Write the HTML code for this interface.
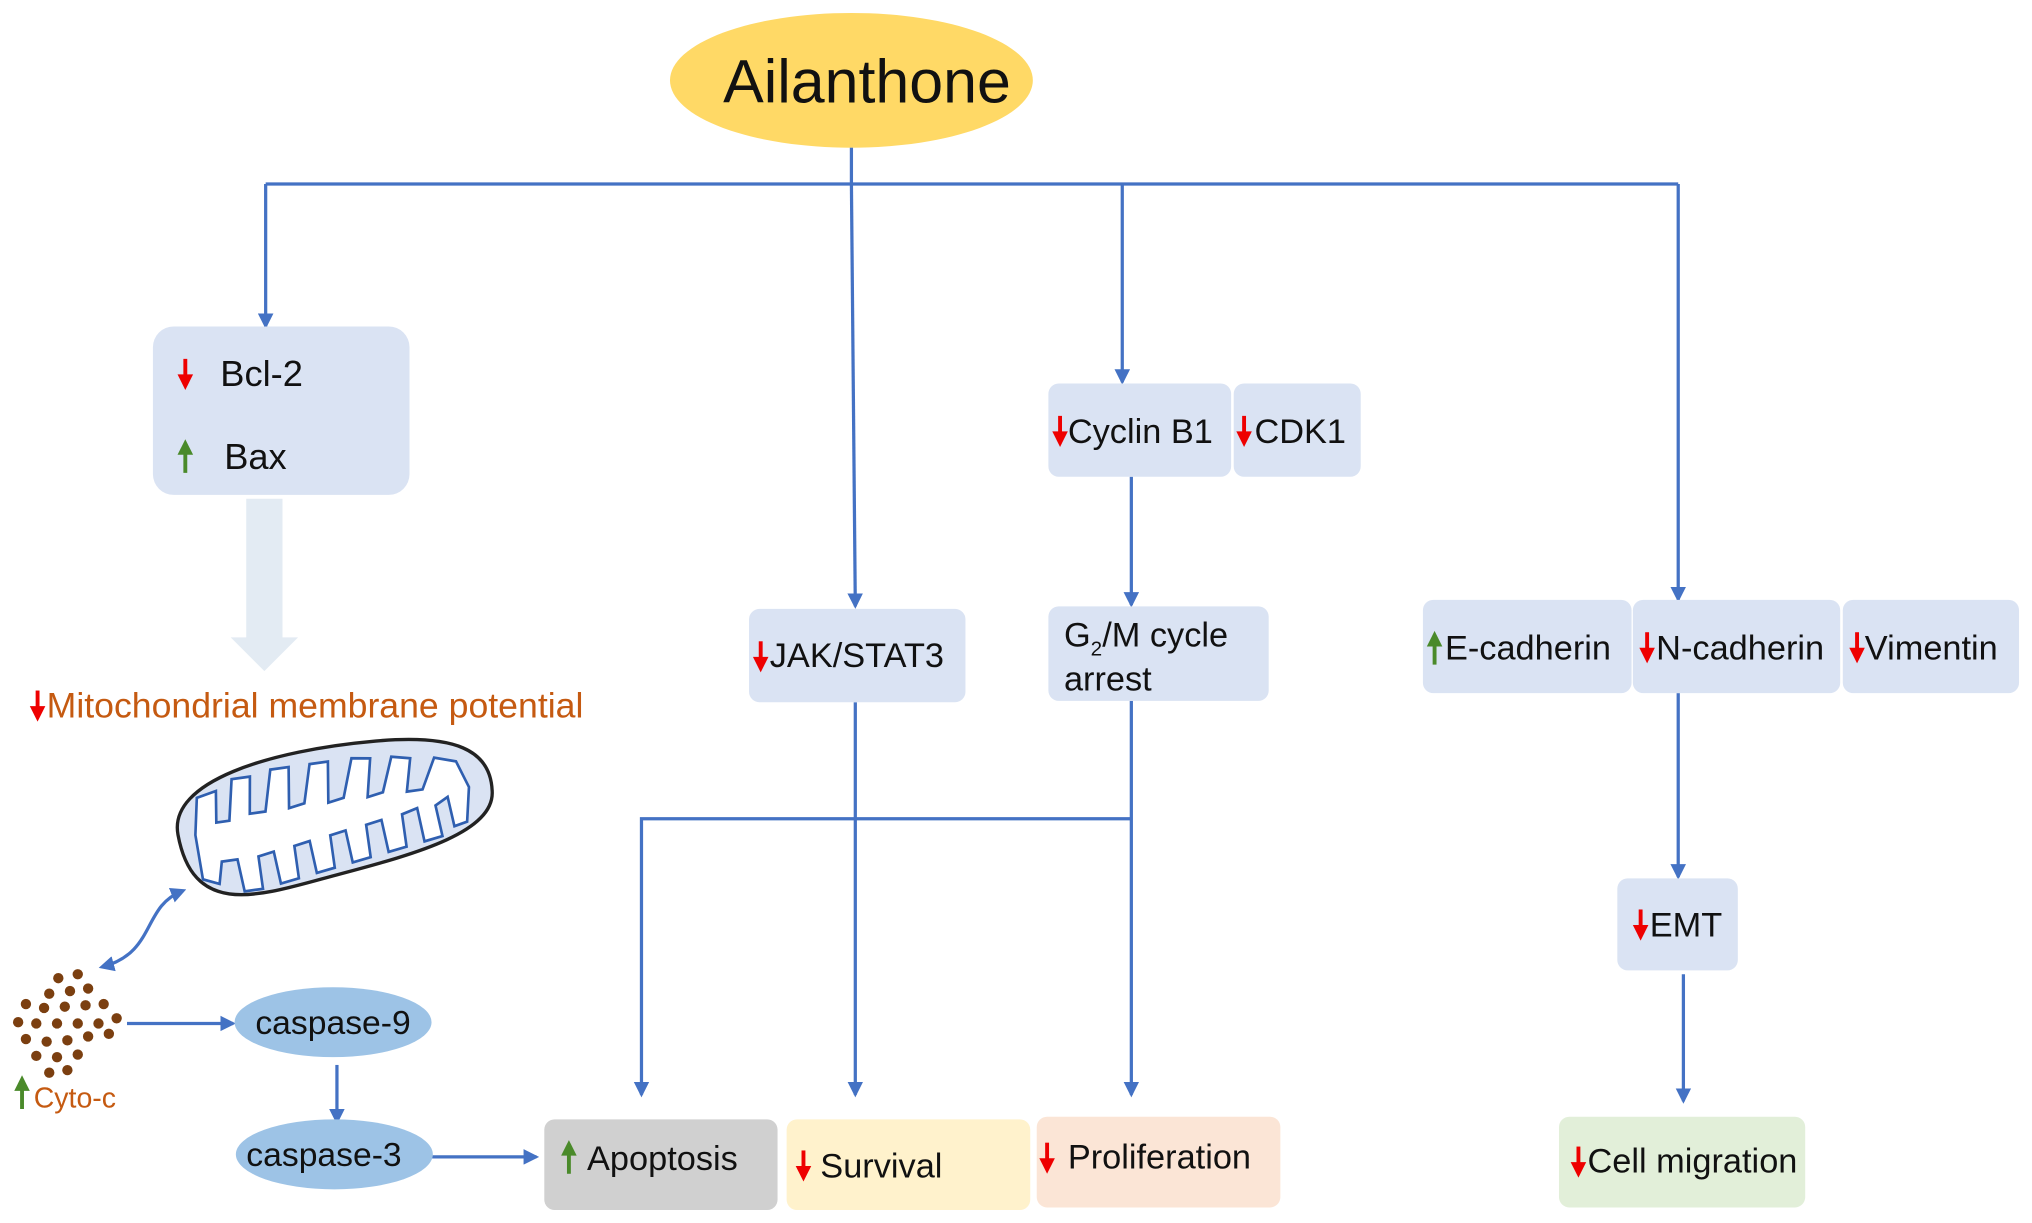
<!DOCTYPE html>
<html><head><meta charset="utf-8"><style>
html,body{margin:0;padding:0;background:#fff;}
svg{display:block;}
text{font-family:"Liberation Sans",sans-serif;fill:#111;}
</style></head><body>
<svg width="2032" height="1223" viewBox="0 0 1568 944" preserveAspectRatio="none" xmlns="http://www.w3.org/2000/svg">
<defs>
<marker id="ah" markerWidth="12" markerHeight="12" refX="10" refY="6" orient="auto" markerUnits="userSpaceOnUse"><path d="M0,0 L12,6 L0,12 Z" fill="#4472c4"/></marker>
<marker id="ahs" markerWidth="12" markerHeight="12" refX="8" refY="6" orient="auto-start-reverse" markerUnits="userSpaceOnUse"><path d="M0,0 L12,6 L0,12 Z" fill="#4472c4"/></marker>
<g id="rd"><path d="M0,0 V16" stroke="#e00" stroke-width="3"/><path d="M-6,12 L0,24 L6,12 Z" fill="#e00"/></g>
<g id="gu"><path d="M0,8 V26" stroke="#4a8a2a" stroke-width="3"/><path d="M-6,12 L0,0 L6,12 Z" fill="#4a8a2a"/></g>
</defs>
<rect width="1568" height="944" fill="#fff"/>
<ellipse cx="657" cy="62" rx="140" ry="52" fill="#ffd966"/>
<text x="669" y="79" font-size="47" text-anchor="middle">Ailanthone</text>
<g stroke="#4472c4" stroke-width="2.5" fill="none">
<path d="M657,114 V142"/>
<path d="M205,142 H1295"/>
<path d="M205,142 V252" marker-end="url(#ah)"/>
<path d="M657,142 L660,468" marker-end="url(#ah)"/>
<path d="M866,142 V295" marker-end="url(#ah)"/>
<path d="M1295,142 V463" marker-end="url(#ah)"/>
<path d="M873,368 V467" marker-end="url(#ah)"/>
<path d="M660,542 V845" marker-end="url(#ah)"/>
<path d="M873,541 V845" marker-end="url(#ah)"/>
<path d="M873,632 H495 V845" marker-end="url(#ah)"/>
<path d="M1295,535 V677" marker-end="url(#ah)"/>
<path d="M1299,752 V850" marker-end="url(#ah)"/>
<path d="M98,790 H180" marker-end="url(#ah)"/>
<path d="M260,822 V866" marker-end="url(#ah)"/>
<path d="M333,893 H414" marker-end="url(#ah)"/>
<path d="M80,746 C120,735 110,700 140,688" marker-start="url(#ahs)" marker-end="url(#ahs)"/>
</g>
<rect x="118" y="252" width="198" height="130" rx="16" fill="#dae3f3"/>
<use href="#rd" x="143" y="277"/>
<text x="170" y="298" font-size="28">Bcl-2</text>
<use href="#gu" x="143" y="339"/>
<text x="173" y="362" font-size="28">Bax</text>
<path d="M190,385 H218 V492 H230 L204,518 L178,492 H190 Z" fill="#e3ebf3"/>
<use href="#rd" x="29" y="533"/>
<text x="36" y="554" font-size="27.5" style="fill:#c55a11">Mitochondrial membrane potential</text>
<g transform="translate(258,638) rotate(-8) scale(1.02,1.05)">
<path d="M-118,-10 C-120,-50 -40,-62 40,-58 C100,-55 125,-40 122,-10 C120,20 60,28 0,35 C-60,42 -115,55 -118,-10 Z" fill="#dae3f3" stroke="#222" stroke-width="2.5"/>
<path d="M-105,-8 L-100,-35 L-85,-38 L-88,-15 L-78,-15 L-72,-45 L-58,-45 L-62,-18 L-50,-18 L-42,-48 L-28,-48 L-32,-18 L-20,-20 L-12,-48 L2,-48 L-2,-18 L10,-20 L20,-48 L34,-46 L28,-18 L40,-20 L50,-45 L64,-42 L58,-18 L70,-18 L82,-40 L98,-35 L105,-15 L100,10 L90,12 L88,-10 L78,-5 L80,18 L66,20 L64,-5 L52,-2 L52,22 L38,24 L36,0 L24,2 L24,26 L10,28 L8,4 L-4,6 L-4,30 L-18,32 L-20,8 L-32,10 L-32,34 L-46,36 L-48,12 L-60,14 L-60,38 L-74,38 L-76,14 L-88,14 L-92,30 L-104,25 Z" fill="#fff" stroke="#2f5fb0" stroke-width="2"/>
</g>
<g fill="#7b3f10">
<circle cx="45" cy="755" r="4"/><circle cx="60" cy="752" r="4"/><circle cx="38" cy="767" r="4"/><circle cx="54" cy="765" r="4"/><circle cx="68" cy="763" r="4"/>
<circle cx="20" cy="775" r="4"/><circle cx="34" cy="778" r="4"/><circle cx="50" cy="777" r="4"/><circle cx="66" cy="776" r="4"/><circle cx="80" cy="775" r="4"/>
<circle cx="14" cy="789" r="4"/><circle cx="28" cy="790" r="4"/><circle cx="44" cy="790" r="4"/><circle cx="60" cy="790" r="4"/><circle cx="76" cy="790" r="4"/><circle cx="90" cy="786" r="4"/>
<circle cx="20" cy="802" r="4"/><circle cx="36" cy="804" r="4"/><circle cx="52" cy="803" r="4"/><circle cx="68" cy="800" r="4"/><circle cx="84" cy="798" r="4"/>
<circle cx="28" cy="815" r="4"/><circle cx="44" cy="816" r="4"/><circle cx="60" cy="814" r="4"/><circle cx="38" cy="828" r="4"/><circle cx="52" cy="826" r="4"/>
</g>
<use href="#gu" x="17" y="830"/>
<text x="26" y="855" font-size="22" style="fill:#c55a11">Cyto-c</text>
<ellipse cx="257" cy="789" rx="76" ry="27" fill="#9dc3e6"/>
<text x="257" y="798" font-size="26" text-anchor="middle">caspase-9</text>
<ellipse cx="258" cy="891" rx="76" ry="27" fill="#9dc3e6"/>
<text x="250" y="900" font-size="26" text-anchor="middle">caspase-3</text>
<rect x="578" y="470" width="167" height="72" rx="8" fill="#dae3f3"/>
<use href="#rd" x="587" y="495"/>
<text x="594" y="515" font-size="26.5">JAK/STAT3</text>
<rect x="809" y="296" width="141" height="72" rx="8" fill="#dae3f3"/>
<use href="#rd" x="818" y="321"/>
<text x="824" y="342" font-size="26.5">Cyclin B1</text>
<rect x="952" y="296" width="98" height="72" rx="8" fill="#dae3f3"/>
<use href="#rd" x="960" y="321"/>
<text x="968" y="342" font-size="26.5">CDK1</text>
<rect x="809" y="468" width="170" height="73" rx="8" fill="#dae3f3"/>
<text x="821" y="499" font-size="26.5">G<tspan font-size="16" dy="7">2</tspan><tspan dy="-7">/M cycle</tspan></text>
<text x="821" y="533" font-size="26.5">arrest</text>
<rect x="1098" y="463" width="161" height="72" rx="8" fill="#dae3f3"/>
<use href="#gu" x="1107" y="487"/>
<text x="1115" y="509" font-size="26.5">E-cadherin</text>
<rect x="1260" y="463" width="160" height="72" rx="8" fill="#dae3f3"/>
<use href="#rd" x="1271" y="488"/>
<text x="1278" y="509" font-size="26.5">N-cadherin</text>
<rect x="1422" y="463" width="136" height="72" rx="8" fill="#dae3f3"/>
<use href="#rd" x="1433" y="488"/>
<text x="1439" y="509" font-size="26.5">Vimentin</text>
<rect x="1248" y="678" width="93" height="71" rx="8" fill="#dae3f3"/>
<use href="#rd" x="1266" y="702"/>
<text x="1273" y="723" font-size="26.5">EMT</text>
<rect x="420" y="864" width="180" height="70" rx="8" fill="#d0d0d0"/>
<use href="#gu" x="439" y="880"/>
<text x="453" y="903" font-size="26.5">Apoptosis</text>
<rect x="607" y="864" width="188" height="70" rx="8" fill="#fff2cc"/>
<use href="#rd" x="620" y="888"/>
<text x="633" y="909" font-size="26.5">Survival</text>
<rect x="800" y="862" width="188" height="70" rx="8" fill="#fbe5d6"/>
<use href="#rd" x="808" y="882"/>
<text x="824" y="902" font-size="26.5">Proliferation</text>
<rect x="1203" y="862" width="190" height="70" rx="8" fill="#e2efd9"/>
<use href="#rd" x="1218" y="885"/>
<text x="1225" y="905" font-size="26.5">Cell migration</text>
</svg>
</body></html>
